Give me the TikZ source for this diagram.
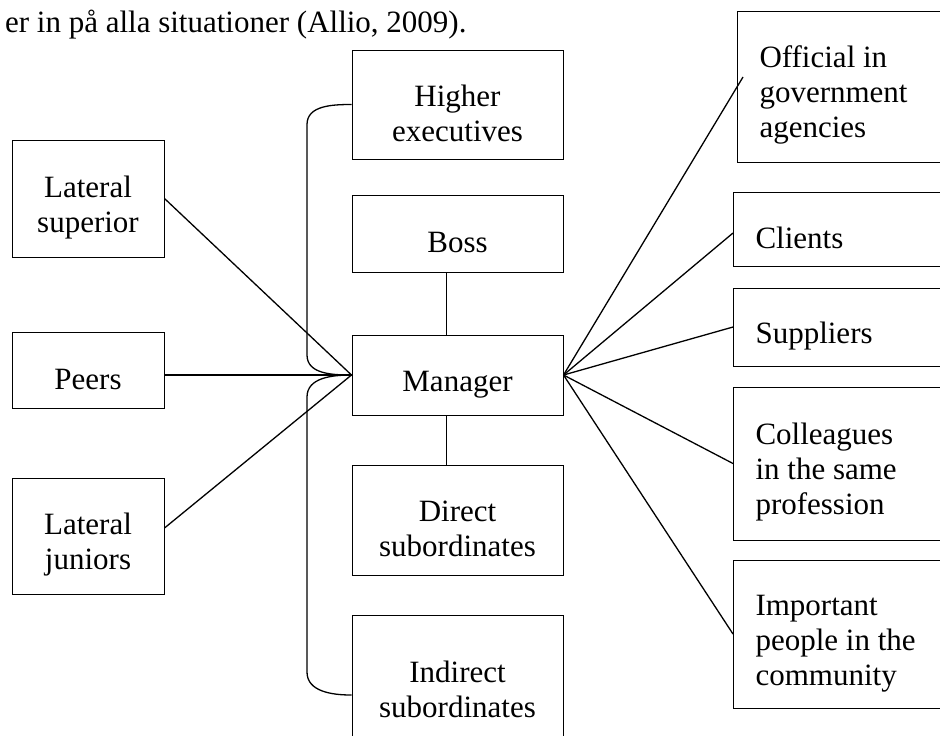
\documentclass[tikz,border=0pt]{standalone}
\usepackage{fontspec}
\setmainfont{Liberation Serif}
\usetikzlibrary{positioning,calc}

\begin{document}
\begin{tikzpicture}[
    x=0.5pt, y=0.5pt,
    font=\fontsize{15.5}{17.5}\selectfont,
    person/.style={
		rectangle,
		draw=black,
		line width=0.5pt,
		inner sep=0pt,
		execute at begin node={\rule{0pt}{19.5pt}},
		fill=white
	},
	mid/.style={person, align=flush center, text width=105.5pt},
	side/.style={person, align=flush center, text width=76pt},
	outer/.style={person, anchor=west, align=flush left, text width=111.5pt, inner xsep=11pt},
	link/.style={line width=0.65pt}
  ]
  \useasboundingbox (0,0) rectangle (940,-735);
  \clip (0,0) rectangle (940,-735);

  \node [anchor=base west] (quote) at (-2,-32) {er in på alla situationer (Allio, 2009).};

    % the middle column, stacked around the manager
  \node [mid, minimum height=40pt] (manager) at (457.5,-375) {Manager};
  \node [mid, minimum height=38.5pt, above=31pt of manager] (boss) {Boss};
  \node [mid, minimum height=54.5pt, above=17.5pt of boss] (higher) {Higher\\executives};
  \node [mid, minimum height=55pt, below=24.5pt of manager] (direct) {Direct\\subordinates};
  \node [mid, minimum height=66pt, below=19.5pt of direct] (indirect) {Indirect\\subordinates};

    % left side
  \node [side, minimum height=58.5pt] (latsup) at (88,-198.5) {Lateral\\superior};
  \node [side, minimum height=38pt] (peers) at (88,-370) {Peers};
  \node [side, minimum height=58pt] (latjun) at (88,-536) {Lateral\\juniors};

    % right side
  \node [outer, minimum height=75.5pt] (official) at (737,-86.5) {Official in\\government\\agencies};
  \node [outer, minimum height=37pt] (clients) at (733,-229) {Clients};
  \node [outer, minimum height=39pt] (suppliers) at (733,-327) {Suppliers};
  \node [outer, minimum height=76.5pt] (colleagues) at (733,-463.5) {Colleagues\\in the same\\profession};
  \node [outer, minimum height=74pt] (important) at (733,-634) {Important\\people in the\\community};

    % links
  \draw [link] ([xshift=-5.5pt]boss.south) -- ([xshift=-5.5pt]manager.north);
  \draw [link] ([xshift=-5.5pt]manager.south) -- ([xshift=-5.5pt]direct.north);

  \draw [link] (latsup.east) -- (manager.west);
  \draw [link] (peers.east |- manager.west) -- (manager.west);
  \draw [link] ([yshift=4pt]latjun.east) -- (manager.west);

  \coordinate (bar) at (307,0);
  \draw [link] (higher.west) to[out=180,in=90] ($(higher.west -| bar)+(0,-20)$)
    -- ($(manager.west -| bar)+(0,20)$) to[out=-90,in=180] (manager.west);
  \draw [link] (manager.west) to[out=180,in=90] ($(manager.west -| bar)+(0,-22)$)
    -- ($(indirect.west -| bar)+(0,9)$) to[out=-90,in=180] ([yshift=-7pt]indirect.west);

  \draw [link] (manager.east) -- ([shift={(3pt,4.75pt)}]official.west);
  \draw [link] (manager.east) -- ([yshift=-2pt]clients.west);
  \foreach \n in {suppliers,colleagues,important}
    \draw [link] (manager.east) -- (\n.west);

\end{tikzpicture}
\end{document}
